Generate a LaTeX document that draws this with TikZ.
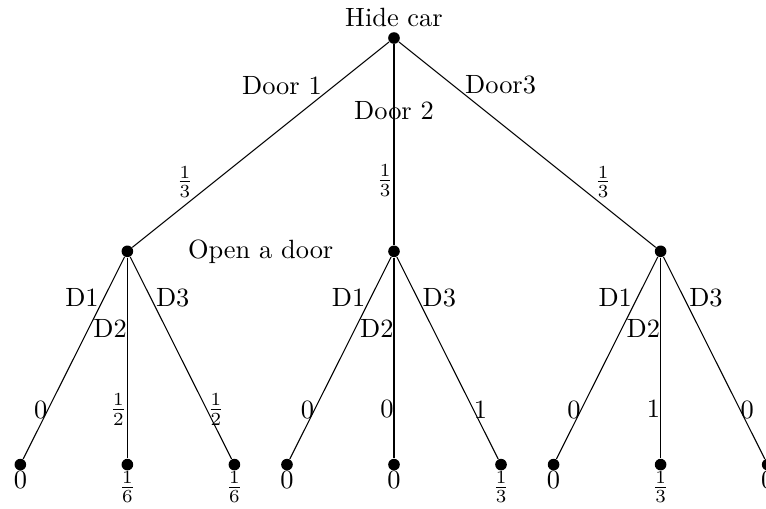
\documentclass[tikz,border=0pt]{standalone}
\usetikzlibrary{positioning}

\begin{document}
\begin{tikzpicture}[
  dot/.style={circle, fill, inner sep=0pt, minimum size=4.4pt},
  lbl/.style={inner sep=0pt},
  on grid, node distance=2.84cm and 3.55cm
]
\useasboundingbox (-5.246,-6.258) rectangle (4.953,0.506);

% first choice: where the car is hidden
\node[dot, label={[lbl, name=hide, label distance=1.7pt]above:Hide car}] (car) {};
\node[dot, below left=of car] (open1) {};
\node[dot, below=of car] (open2) {};
\node[dot, below right=of car] (open3) {};
\node[right=1.775cm of open1] (opentxt) {Open a door};

% second choice: the door that gets opened
\node[dot, below left=2.84cm and 1.425cm of open1, label={[lbl, name=v11]below:$0$}] (p11) {};
\node[dot, below=2.84cm of open1, label={[lbl, name=v12]below:$\frac{1}{6}$}] (p12) {};
\node[dot, below right=2.84cm and 1.425cm of open1, label={[lbl, name=v13]below:$\frac{1}{6}$}] (p13) {};
\node[dot, below left=2.84cm and 1.425cm of open2, label={[lbl, name=v21]below:$0$}] (p21) {};
\node[dot, below=2.84cm of open2, label={[lbl, name=v22]below:$0$}] (p22) {};
\node[dot, below right=2.84cm and 1.425cm of open2, label={[lbl, name=v23]below:$\frac{1}{3}$}] (p23) {};
\node[dot, below left=2.84cm and 1.425cm of open3, label={[lbl, name=v31]below:$0$}] (p31) {};
\node[dot, below=2.84cm of open3, label={[lbl, name=v32]below:$\frac{1}{3}$}] (p32) {};
\node[dot, below right=2.84cm and 1.425cm of open3, label={[lbl, name=v33]below:$0$}] (p33) {};

\draw (car) -- node[lbl, pos=0.26, anchor=south east]{Door 1}
                node[lbl, pos=0.76, anchor=south east]{$\frac{1}{3}$} (open1);
\draw (car) -- node[lbl, pos=0.33]{Door 2}
                node[lbl, pos=0.68, anchor=east]{$\frac{1}{3}$} (open2);
\draw (car) -- node[lbl, pos=0.256, anchor=south west]{Door3}
                node[lbl, pos=0.76, anchor=south west]{$\frac{1}{3}$} (open3);

\draw (open1) -- node[lbl, pos=0.25, anchor=south east]{D1}
                 node[lbl, pos=0.756, anchor=east]{$0$} (p11);
\draw (open1) -- node[lbl, pos=0.4, anchor=south east]{D2}
                 node[lbl, pos=0.756, anchor=east]{$\frac{1}{2}$} (p12);
\draw (open1) -- node[lbl, pos=0.25, anchor=south west]{D3}
                 node[lbl, pos=0.756, anchor=west]{$\frac{1}{2}$} (p13);

\draw (open2) -- node[lbl, pos=0.25, anchor=south east]{D1}
                 node[lbl, pos=0.756, anchor=east]{$0$} (p21);
\draw (open2) -- node[lbl, pos=0.4, anchor=south east]{D2}
                 node[lbl, pos=0.756, anchor=east]{$0$} (p22);
\draw (open2) -- node[lbl, pos=0.25, anchor=south west]{D3}
                 node[lbl, pos=0.756, anchor=west]{$1$} (p23);

\draw (open3) -- node[lbl, pos=0.25, anchor=south east]{D1}
                 node[lbl, pos=0.756, anchor=east]{$0$} (p31);
\draw (open3) -- node[lbl, pos=0.4, anchor=south east]{D2}
                 node[lbl, pos=0.756, anchor=east]{$1$} (p32);
\draw (open3) -- node[lbl, pos=0.25, anchor=south west]{D3}
                 node[lbl, pos=0.756, anchor=west]{$0$} (p33);
\end{tikzpicture}
\end{document}
